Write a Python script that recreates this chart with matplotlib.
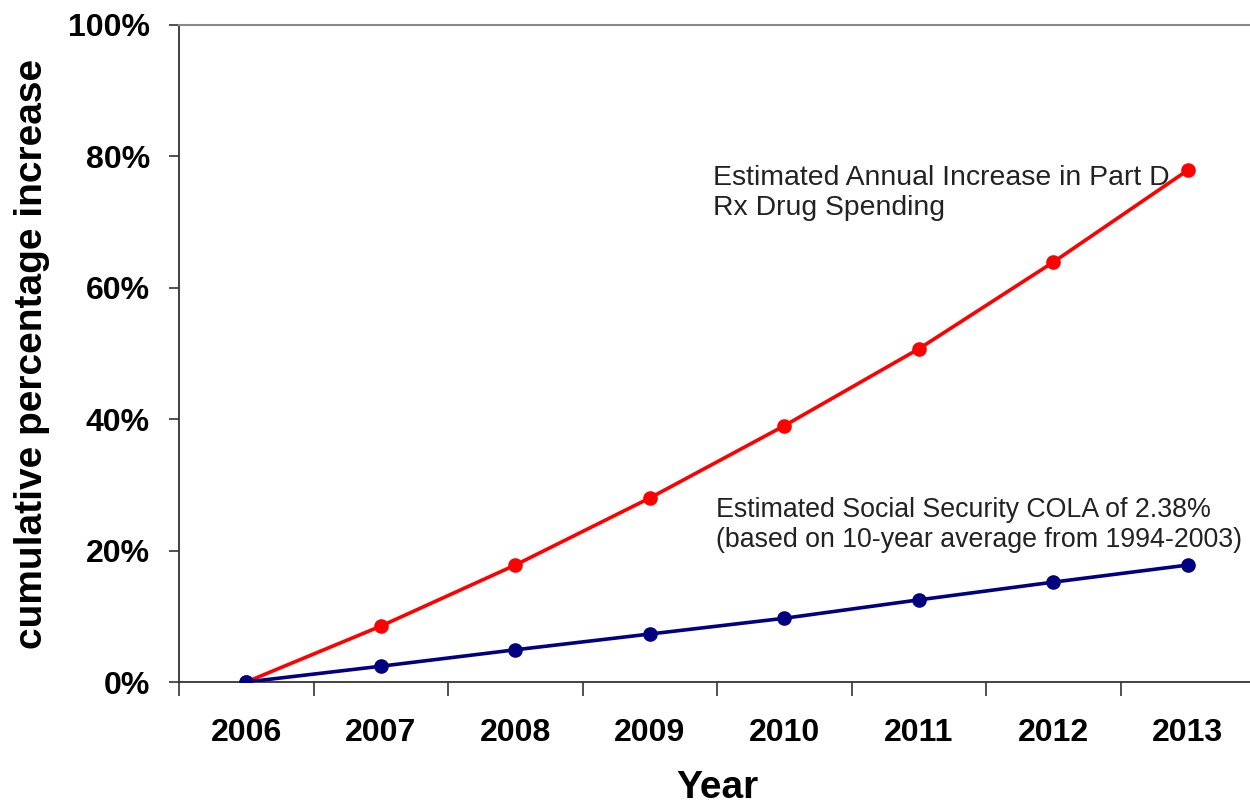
import numpy as np
import matplotlib.pyplot as plt
from matplotlib.ticker import FixedLocator, PercentFormatter

years = ['2006', '2007', '2008', '2009', '2010', '2011', '2012', '2013']
part_d_spending = [0.0, 8.5, 17.8, 28.0, 39.0, 50.7, 63.9, 77.9]
ss_cola = [0.0, 2.4, 4.9, 7.3, 9.7, 12.5, 15.2, 17.8]

plt.rcParams['font.family'] = ['Liberation Sans', 'DejaVu Sans']

fig = plt.figure(figsize=(12.5, 8.08), dpi=100)
ax = fig.add_axes([179 / 1250, 1 - 682 / 808, 1076 / 1250, 657 / 808])

x = np.arange(len(years))
ax.plot(x, part_d_spending, color='#ff0000', lw=2.6, marker='o', ms=9.5, zorder=3)
ax.plot(x, ss_cola, color='#000080', lw=2.6, marker='o', ms=9.5, zorder=4)

ax.set_xlim(-0.5, len(years) - 0.5)
ax.set_ylim(0, 100)

# category labels sit between the tick marks
ax.set_xticks(x)
ax.set_xticklabels(years, fontsize=23, fontweight='bold')
ax.tick_params(axis='x', which='major', length=0, pad=26)
ax.xaxis.set_minor_locator(FixedLocator(np.arange(-0.5, len(years), 1.0)))
ax.tick_params(axis='x', which='minor', length=10, width=1.2, direction='out', color='#333333')

ax.set_yticks(np.arange(0, 101, 20))
ax.yaxis.set_major_formatter(PercentFormatter(decimals=0))
ax.tick_params(axis='y', length=7, width=1.2, direction='out', color='#333333', pad=14)
for lab in ax.get_yticklabels():
    lab.set_fontsize(23)
    lab.set_fontweight('bold')

for s in ['left', 'bottom']:
    ax.spines[s].set_color('#333333')
    ax.spines[s].set_linewidth(1.3)
ax.spines['top'].set_color('#888888')
ax.spines['top'].set_linewidth(1.5)
ax.spines['right'].set_visible(False)

ax.set_ylabel('cumulative percentage increase', fontsize=28, fontweight='bold', labelpad=13)
ax.set_xlabel('Year', fontsize=28, fontweight='bold', labelpad=16)

txt = dict(color='#222222', va='baseline', ha='left')
ax.text(3.47, 75.6, 'Estimated Annual Increase in Part D', fontsize=20.4, **txt)
ax.text(3.47, 71.1, 'Rx Drug Spending', fontsize=20.4, **txt)
ax.text(3.49, 25.1, 'Estimated Social Security COLA of 2.38%', fontsize=19.3, **txt)
ax.text(3.49, 20.5, '(based on 10-year average from 1994-2003)', fontsize=19.3, **txt)

fig.savefig('out.png', dpi=100)
